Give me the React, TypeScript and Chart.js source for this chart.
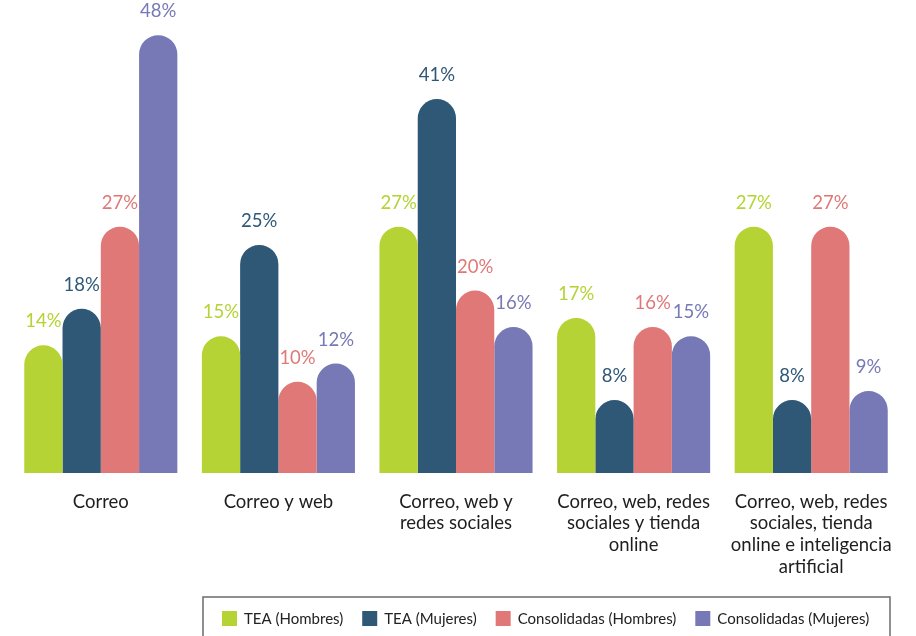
import React, { useEffect, useRef } from "react";
import { Chart, registerables } from "chart.js";

Chart.register(...registerables);

const categories: string[][] = [
  ["Correo"],
  ["Correo y web"],
  ["Correo, web y", "redes sociales"],
  ["Correo, web, redes", "sociales y tienda", "online"],
  ["Correo, web, redes", "sociales, tienda", "online e inteligencia", "artificial"],
];
const seriesNames = ["TEA (Hombres)", "TEA (Mujeres)", "Consolidadas (Hombres)", "Consolidadas (Mujeres)"];
const teaHombres = [14, 15, 27, 17, 27];
const teaMujeres = [18, 25, 41, 8, 8];
const consHombres = [27, 10, 20, 16, 27];
const consMujeres = [48, 12, 16, 15, 9];
const seriesColors = ["#b5d334", "#2f5877", "#e07878", "#7679b5"];
const yMax = 50;

const FONT = "Lato, 'Noto Sans', sans-serif";

const valueLabelPlugin = {
  id: "valueLabels",
  afterDatasetsDraw(chart: any) {
    const ctx = chart.ctx;
    ctx.save();
    ctx.font = `18.5px ${FONT}`;
    ctx.textAlign = "center";
    ctx.textBaseline = "alphabetic";
    chart.data.datasets.forEach((ds: any, i: number) => {
      const meta = chart.getDatasetMeta(i);
      meta.data.forEach((el: any, j: number) => {
        ctx.fillStyle = ds.backgroundColor;
        ctx.fillText(`${ds.data[j]}%`, el.x, el.y - 18);
      });
    });
    ctx.restore();
  },
};

const boxLegendPlugin = {
  id: "boxLegend",
  afterDraw(chart: any) {
    const ctx = chart.ctx;
    ctx.save();
    ctx.strokeStyle = "#6b6b6b";
    ctx.lineWidth = 1.5;
    ctx.strokeRect(203, 597, 687, 50);
    ctx.font = `15px ${FONT}`;
    ctx.textBaseline = "middle";
    ctx.textAlign = "left";
    let x = 222;
    const cy = 618;
    chart.data.datasets.forEach((ds: any) => {
      ctx.fillStyle = ds.backgroundColor;
      ctx.fillRect(x, cy - 7, 15, 15);
      ctx.fillStyle = "#222";
      ctx.fillText(ds.label, x + 22, cy + 1);
      x += 22 + ctx.measureText(ds.label).width + 19;
    });
    ctx.restore();
  },
};

export default function App() {
  const ref = useRef<HTMLCanvasElement | null>(null);
  useEffect(() => {
    if (!ref.current) return;
    const values = [teaHombres, teaMujeres, consHombres, consMujeres];
    const chart = new Chart(ref.current, {
      type: "bar",
      data: {
        labels: categories,
        datasets: seriesNames.map((name, i) => ({
          label: name,
          data: values[i],
          backgroundColor: seriesColors[i],
          borderRadius: { topLeft: 20, topRight: 20, bottomLeft: 0, bottomRight: 0 },
          borderSkipped: "bottom",
          barPercentage: 1,
          categoryPercentage: 0.862,
        })),
      },
      options: {
        animation: false,
        responsive: false,
        maintainAspectRatio: false,
        layout: { padding: { left: 12, right: 16, top: 17, bottom: 45 } },
        plugins: { legend: { display: false }, tooltip: { enabled: false } },
        scales: {
          x: {
            grid: { display: false, drawTicks: false },
            border: { display: false },
            ticks: {
              color: "#1e1e1e",
              font: { family: FONT, size: 18.5, lineHeight: 1.17 },
              padding: 18,
              maxRotation: 0,
              autoSkip: false,
            },
            afterFit(scale: any) {
              scale.height = 118;
            },
          },
          y: {
            display: false,
            min: 0,
            max: yMax,
          },
        },
      },
      plugins: [valueLabelPlugin, boxLegendPlugin],
    } as any);
    return () => chart.destroy();
  }, []);
  return (
    <div style={{ position: "absolute", left: 0, top: 0, width: 916, height: 636, background: "#fff" }}>
      <canvas ref={ref} width={916} height={636} style={{ width: 916, height: 636 }} />
    </div>
  );
}
